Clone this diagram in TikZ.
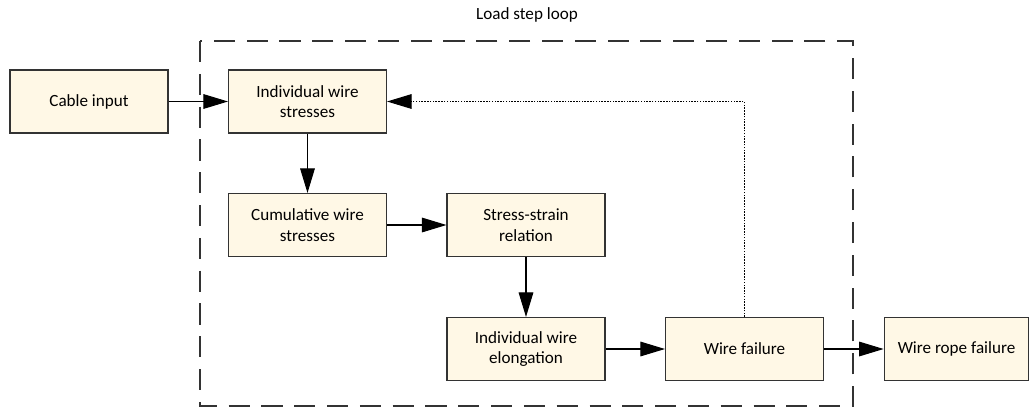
\documentclass[tikz,border=0pt]{standalone}
\usepackage{fontspec}
\setmainfont{Carlito}
\usetikzlibrary{arrows.meta}

\definecolor{boxfill}{HTML}{FFF8E6}
\definecolor{boxline}{HTML}{333333}

\tikzset{
  stage/.style = {draw=boxline, line width=0.9pt, fill=boxfill, minimum width=4.74cm,
                  minimum height=1.89cm, align=center, inner sep=2pt,
                  font=\fontsize{14.6}{17.5}\selectfont},
  flow/.style = {-{Triangle[length=21pt, width=12.5pt]}, line width=0.9pt},
  feedback/.style = {flow, dash pattern=on 1.3pt off 1.1pt}
}

\begin{document}
\begin{tikzpicture}[x=0.03cm, y=-0.03cm]

\useasboundingbox (0, 0) rectangle (1032, 410);

% loop frame
\draw[line width=1.2pt, dash pattern=on 18pt off 10pt, boxline] (200, 41) rectangle (853, 406);
\node[font=\fontsize{14.6}{17.5}\selectfont] (looplabel) at (527, 15) {Load step loop};

\node[stage] (cable) at (89, 101.5) {Cable input};
\node[stage] (indstress) at (307.5, 101.5) {Individual wire\\stresses};
\node[stage] (cumstress) at (307.5, 225) {Cumulative wire\\stresses};
\node[stage] (relation) at (526, 225) {Stress-strain\\relation};
\node[stage] (elong) at (526, 349) {Individual wire\\elongation};
\node[stage] (failure) at (744.5, 349) {Wire failure};
\node[stage, minimum width=4.34cm] (ropefail) at (956.5, 349) {Wire rope failure};

\draw[flow] (cable) -- (indstress);
\draw[flow] (indstress) -- (cumstress);
\draw[flow] (cumstress) -- (relation);
\draw[flow] (relation) -- (elong);
\draw[flow] (elong) -- (failure);
\draw[flow] (failure) -- (ropefail);

\draw[feedback] (failure.north) |- (indstress.east);

\end{tikzpicture}
\end{document}
